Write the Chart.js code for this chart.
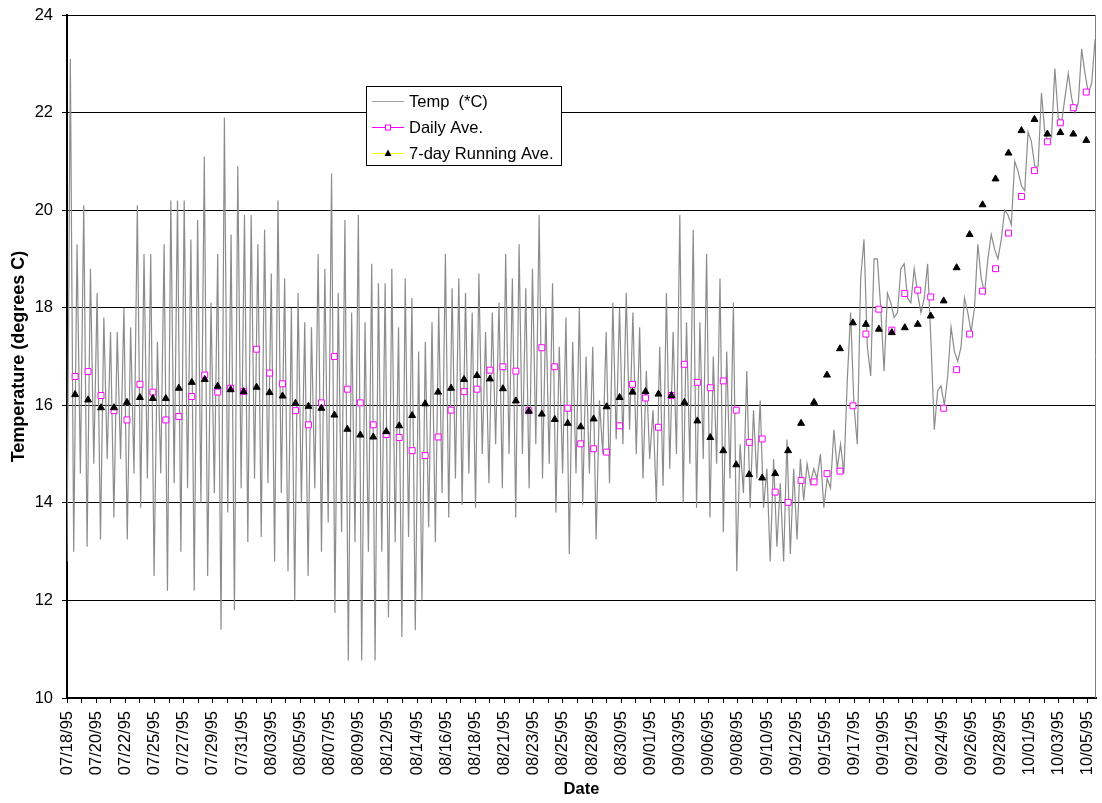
<!DOCTYPE html>
<html>
<head>
<meta charset="utf-8">
<script src="https://cdn.jsdelivr.net/npm/chart.js@4/dist/chart.umd.min.js"></script>
<style>
  html, body { margin: 0; padding: 0; background: #ffffff; }
  #wrap { width: 1102px; height: 803px; }
</style>
</head>
<body>
<div id="wrap"><canvas id="c" width="1102" height="803"></canvas></div>
<script>
// ---------------- DATA ----------------
// Date labels shown under every other tick mark
const tickLabels = [
  "07/18/95","07/20/95","07/22/95","07/25/95","07/27/95","07/29/95","07/31/95",
  "08/03/95","08/05/95","08/07/95","08/09/95","08/12/95","08/14/95","08/16/95",
  "08/18/95","08/21/95","08/23/95","08/25/95","08/28/95","08/30/95","09/01/95",
  "09/03/95","09/06/95","09/08/95","09/10/95","09/12/95","09/15/95","09/17/95",
  "09/19/95","09/21/95","09/24/95","09/26/95","09/28/95","10/01/95","10/03/95","10/05/95"
];

// Daily averages, one per day starting 07/18/95 (deg C)
const dailyAve = [
  16.59,16.69,16.20,15.89,15.70,16.43,16.27,15.70,15.77,16.18,
  16.62,16.27,16.35,16.28,17.15,16.66,16.44,15.89,15.60,16.05,
  17.00,16.33,16.05,15.60,15.40,15.34,15.07,14.97,15.35,15.90,
  16.28,16.33,16.72,16.79,16.70,15.89,17.18,16.79,15.94,15.21,
  15.11,15.04,15.58,16.43,16.15,15.55,16.20,16.84,16.47,16.36,
  16.50,15.90,15.24,15.31,14.22,14.01,14.46,14.43,14.60,14.65,
  15.99,17.46,17.97,17.54,18.29,18.36,18.22,15.94,16.73,17.46,
  18.34,18.80,19.53,20.28,20.81,21.40,21.79,22.10,22.42
];

// 7-day running averages, one per day (deg C)
const runningAve = [
  16.22,16.11,15.95,15.95,16.06,16.16,16.14,16.14,16.35,16.47,
  16.53,16.39,16.32,16.28,16.37,16.26,16.19,16.04,15.98,15.94,
  15.80,15.51,15.39,15.35,15.46,15.58,15.79,16.03,16.27,16.35,
  16.53,16.61,16.54,16.34,16.09,15.88,15.82,15.71,15.63,15.56,
  15.72,15.97,16.16,16.27,16.28,16.23,16.20,16.06,15.68,15.34,
  15.07,14.78,14.58,14.51,14.60,15.07,15.63,16.06,16.62,17.16,
  17.69,17.66,17.56,17.49,17.59,17.66,17.83,18.14,18.82,19.50,
  20.11,20.64,21.17,21.63,21.86,21.56,21.59,21.56,21.43
];

// Temperature readings (deg C), successive low / high turning points
const tempReadings = [
  12.8,23.1, 13.0,19.3, 14.6,20.1, 13.1,18.8, 14.8,18.3, 13.25,17.8, 14.9,17.5, 13.7,17.5, 14.9,18.0, 13.25,17.6,
  14.6,20.1, 13.9,19.1, 14.5,19.1, 12.5,17.3, 14.6,19.3, 12.2,20.2, 14.4,20.2, 13.0,20.2, 14.3,19.4, 12.2,19.8,
  14.0,21.1, 12.5,18.1, 14.2,19.1, 11.4,21.9, 13.8,19.5, 11.8,20.9, 14.3,19.9, 13.2,19.9, 14.5,19.3, 13.3,19.6,
  14.4,18.7, 12.8,20.2, 14.2,18.6, 12.6,18.0, 12.0,18.3, 14.0,17.7, 12.5,17.6, 14.3,19.1, 13.0,18.8,
  13.6,20.75, 11.74,18.3, 13.4,19.8, 10.77,17.9, 13.2,19.9, 10.77,17.7, 13.0,18.9, 10.77,18.5, 13.0,18.5, 11.65,18.8,
  13.2,17.6, 11.25,18.6, 13.3,18.2, 11.39,17.1, 12.0,17.3, 13.5,17.7, 13.2,18.0, 14.2,19.1, 13.7,18.4, 14.5,18.6,
  13.96,18.3, 14.6,17.9, 13.9,18.7, 15.0,17.5, 14.4,17.9, 15.2,18.1, 14.3,19.1, 15.0,18.6, 13.7,19.3, 15.0,18.4,
  14.3,18.8, 15.2,19.9, 14.5,18.0, 14.8,18.5, 13.8,17.2, 14.6,17.8, 12.95,17.3, 14.6,18.0, 13.96,17.0,
  14.6,17.2, 13.25,16.1, 15.0,17.5, 14.4,18.1, 15.3,18.0, 15.2,18.3, 15.5,17.9, 15.0,17.6, 14.5,16.7, 14.9,15.9,
  14.0,17.2, 14.35,18.3, 14.7,17.5, 15.0,19.9, 14.0,17.7, 14.8,19.6, 13.9,17.7, 14.9,19.1, 13.7,17.0, 14.8,18.6,
  13.4,17.1, 14.5,18.1, 12.6,15.2, 14.2,16.7, 13.9,15.9, 14.5,16.1, 13.9,14.7, 12.8,14.9, 13.1,14.4, 12.8,15.3,
  12.95,14.7, 13.25,14.9, 14.05,14.8, 14.4,14.7, 14.5,15.0, 13.9,14.5, 14.3,15.5, 14.7,15.2,
  14.6,16.5,17.9,16.0,15.2,18.6,19.4,17.2,16.6,19.0,
  19.0,18.0,16.7,18.3,18.1,17.8,17.9,18.8,18.9,18.2,
  18.1,18.8,18.3,17.9,18.2,18.9,17.3,15.5,16.3,16.4,
  16.0,16.6,17.6,17.1,16.9,17.2,18.2,17.9,17.5,18.0,
  19.3,18.6,18.3,19.0,19.5,19.2,19.0,19.4,20.0,19.9,
  19.7,21.0,20.8,20.5,20.4,21.6,21.4,20.9,20.9,22.4,
  21.6,21.4,21.5,22.9,21.9,21.8,22.3,22.8,22.3,22.0,
  22.2,23.3,22.8,22.4,22.6,23.5
];

const seriesNames = ["Temp  (*C)", "Daily Ave.", "7-day Running Ave."];

// ---------------- sampling grid of the x (reading number) axis ----------------
const TOTAL_ROWS = 1270;        // readings spanned by the axis
const ROWS_PER_TICK = 18;       // tick mark every 18 readings, label every 2nd tick
const DAILY_FIRST_ROW = 10;     // reading at which each daily value is plotted
const ROWS_PER_DAY = 16;
const TEMP_ROW_STEP = 4.133;    // readings between successive turning points

const tempPoints = tempReadings.map((v, i) => ({ x: i * TEMP_ROW_STEP, y: v }));
const dailyPoints = dailyAve.map((v, d) => ({ x: DAILY_FIRST_ROW + d * ROWS_PER_DAY, y: v }));
const runningPoints = runningAve.map((v, d) => ({ x: DAILY_FIRST_ROW + d * ROWS_PER_DAY, y: v }));
const tickRows = [];
for (let j = 0; j <= (tickLabels.length - 1) * 2; j++) tickRows.push(j * ROWS_PER_TICK);

const FONT = "'Liberation Sans', Arial, Helvetica, sans-serif";

// legend drawn inside the plot, boxed, like the original
const boxLegend = {
  id: 'boxLegend',
  afterDatasetsDraw(chart) {
    const ctx = chart.ctx;
    const bx = 366, by = 86, bw = 195, bh = 79;
    ctx.save();
    ctx.fillStyle = '#ffffff';
    ctx.fillRect(bx, by, bw, bh);
    ctx.strokeStyle = '#000000';
    ctx.lineWidth = 1;
    ctx.strokeRect(bx + 0.5, by + 0.5, bw, bh);
    const rowsY = [101, 127, 153];
    const lineCols = ['#a0a0a0', '#ff00ff', '#ffff00'];
    ctx.font = '16.5px ' + FONT;
    ctx.textBaseline = 'middle';
    ctx.textAlign = 'left';
    for (let r = 0; r < 3; r++) {
      const y = rowsY[r] + 0.5;
      ctx.strokeStyle = lineCols[r];
      ctx.lineWidth = 1;
      ctx.beginPath(); ctx.moveTo(372, y); ctx.lineTo(404, y); ctx.stroke();
      if (r === 1) {
        ctx.fillStyle = '#ffffff';
        ctx.fillRect(385, y - 3, 6, 6);
        ctx.strokeStyle = '#ff00ff';
        ctx.strokeRect(385.5, y - 2.5, 5, 5);
      } else if (r === 2) {
        ctx.fillStyle = '#000000';
        ctx.beginPath();
        ctx.moveTo(388, y - 4); ctx.lineTo(391.5, y + 2.5); ctx.lineTo(384.5, y + 2.5);
        ctx.closePath(); ctx.fill();
      }
      ctx.fillStyle = '#000000';
      ctx.fillText(chart.data.datasets[r].label, 409, rowsY[r] + 1);
    }
    ctx.restore();
  }
};

// grey right-hand frame of the plot area
const frame = {
  id: 'frame',
  beforeDatasetsDraw(chart) {
    const a = chart.chartArea, ctx = chart.ctx;
    ctx.save();
    ctx.strokeStyle = '#808080';
    ctx.lineWidth = 1;
    ctx.beginPath();
    ctx.moveTo(Math.round(a.right) - 0.5, a.top);
    ctx.lineTo(Math.round(a.right) - 0.5, a.bottom);
    ctx.stroke();
    ctx.restore();
  }
};

function noLabelPadding(s) {
  s.paddingLeft = 0; s.paddingRight = 0; s.paddingTop = 0; s.paddingBottom = 0;
}

new Chart(document.getElementById('c'), {
  type: 'line',
  data: {
    datasets: [
      {
        label: seriesNames[0], data: tempPoints, borderColor: '#8c8c8c', borderWidth: 1.2,
        pointRadius: 0, tension: 0, order: 2
      },
      {
        label: seriesNames[1], data: dailyPoints, showLine: false, pointStyle: 'rect',
        pointRadius: 4.2, borderColor: '#ff00ff', backgroundColor: '#ffffff',
        pointBorderWidth: 1, order: 1
      },
      {
        label: seriesNames[2], data: runningPoints, showLine: false, pointStyle: 'triangle',
        pointRadius: 4, borderColor: '#000000', backgroundColor: '#000000',
        pointBorderWidth: 1, order: 0
      }
    ]
  },
  options: {
    responsive: false,
    animation: false,
    events: [],
    layout: { padding: { top: 15, right: 6, left: 0, bottom: 0 } },
    plugins: { legend: { display: false }, tooltip: { enabled: false } },
    scales: {
      x: {
        type: 'linear', min: 0, max: TOTAL_ROWS,
        afterBuildTicks: (s) => { s.ticks = tickRows.map(v => ({ value: v })); },
        afterFit: (s) => { s.height = 105; noLabelPadding(s); },
        grid: { drawOnChartArea: false, drawTicks: true, tickLength: 5, color: '#000000' },
        border: { display: true, color: '#000000', width: 2 },
        ticks: {
          autoSkip: false, minRotation: 90, maxRotation: 90, padding: 8,
          color: '#000000', font: { family: FONT, size: 16.5 },
          callback: (v, i) => (i % 2 === 0 ? tickLabels[i / 2] : '')
        },
        title: {
          display: true, text: 'Date', color: '#000000',
          font: { family: FONT, size: 16.5, weight: 'bold' }, padding: { top: 0, bottom: 4 }
        }
      },
      y: {
        min: 10, max: 24,
        afterFit: (s) => { s.width = 67; noLabelPadding(s); },
        grid: { color: '#000000', lineWidth: 1, drawTicks: true, tickLength: 5 },
        border: { display: true, color: '#000000', width: 2 },
        ticks: {
          stepSize: 2, padding: 9, color: '#000000', font: { family: FONT, size: 16.5 }
        },
        title: {
          display: true, text: 'Temperature (degrees C)', color: '#000000',
          font: { family: FONT, size: 18, weight: 'bold' }, padding: { top: 8, bottom: 0 }
        }
      }
    }
  },
  plugins: [frame, boxLegend]
});
</script>
</body>
</html>
